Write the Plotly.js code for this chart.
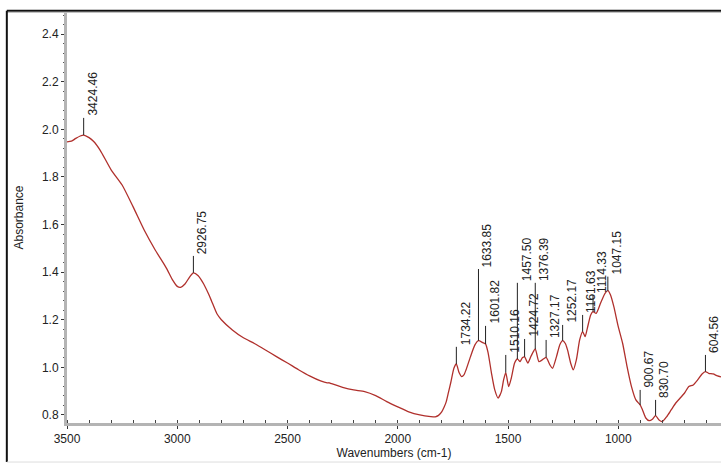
<!DOCTYPE html>
<html>
<head>
<meta charset="utf-8">
<script src="https://cdn.plot.ly/plotly-3.0.1.min.js"></script>
<style>html,body{margin:0;padding:0;background:#fff;}#chart{width:721px;height:464px;}</style>
</head>
<body>
<div id="chart"></div>
<script>
// Spectrum: wavenumber (cm-1) and absorbance
var wavenumbers = [3500,3480,3460,3440,3424.46,3400,3380,3350,3300,3250,3200,3150,3100,3050,3020,3000,2985,2965,2945,2926.75,2905,2880,2860,2845,2820,2800,2750,2700,2650,2600,2550,2500,2450,2400,2350,2320,2310,2300,2250,2200,2150,2100,2050,2000,1950,1900,1850,1830,1815,1800,1790,1780,1770,1760,1745,1734.22,1722,1710,1700,1690,1670,1650,1633.85,1615,1601.82,1590,1575,1560,1545,1530,1520,1510.16,1497,1485,1470,1457.50,1445,1435,1424.72,1410,1395,1376.39,1360,1345,1327.17,1310,1298,1280,1265,1252.17,1240,1230,1215,1204,1190,1175,1161.63,1150,1140,1125,1114.33,1100,1080,1060,1047.15,1035,1020,1000,980,960,940,920,900.67,890,875,860,845,830.70,815,800,780,760,740,720,700,680,660,640,620,604.56,590,570,550,534];
var absorbance = [1.947,1.950,1.962,1.972,1.976,1.965,1.950,1.913,1.830,1.766,1.674,1.577,1.493,1.418,1.365,1.340,1.336,1.350,1.378,1.397,1.385,1.350,1.312,1.280,1.225,1.200,1.157,1.124,1.100,1.073,1.045,1.018,0.990,0.964,0.943,0.935,0.935,0.931,0.916,0.905,0.898,0.881,0.856,0.834,0.813,0.800,0.793,0.792,0.798,0.814,0.832,0.856,0.895,0.934,0.997,1.014,0.978,0.961,0.968,0.990,1.045,1.094,1.112,1.104,1.098,1.060,0.976,0.905,0.871,0.898,0.947,0.978,0.919,0.955,1.018,1.035,1.024,1.040,1.044,1.018,1.048,1.077,1.024,1.031,1.042,1.010,0.996,1.045,1.095,1.112,1.100,1.073,1.015,0.989,1.031,1.115,1.150,1.129,1.165,1.220,1.234,1.227,1.270,1.311,1.322,1.304,1.255,1.171,1.100,1.003,0.919,0.863,0.842,0.821,0.787,0.776,0.782,0.797,0.779,0.772,0.793,0.821,0.849,0.870,0.891,0.919,0.926,0.947,0.972,0.982,0.975,0.972,0.964,0.960];

// Labelled peaks
var peakWn = [3424.46,2926.75,1734.22,1633.85,1601.82,1510.16,1457.50,1424.72,1376.39,1327.17,1252.17,1161.63,1114.33,1047.15,900.67,830.70,604.56];
var peakAbs = [1.976,1.397,1.014,1.112,1.098,0.978,1.035,1.044,1.077,1.042,1.112,1.150,1.234,1.322,0.842,0.797,0.982];
var peakLabelTop = [2.048,1.468,1.086,1.413,1.174,1.052,1.355,1.119,1.355,1.115,1.178,1.220,1.304,1.381,0.905,0.863,1.052];

var FONT = 'Arial, "Liberation Sans", sans-serif';

var shapes = [];
var annotations = [];
for (var i = 0; i < peakWn.length; i++) {
  shapes.push({type:'line', xref:'x', yref:'y', x0:peakWn[i], x1:peakWn[i], y0:peakAbs[i], y1:peakLabelTop[i],
    line:{color:'#222', width:1}});
  annotations.push({xref:'x', yref:'y', x:peakWn[i], y:peakLabelTop[i], text:peakWn[i].toFixed(2),
    textangle:-90, showarrow:false, xanchor:'left', yanchor:'bottom', xshift:0, yshift:0,
    font:{family:FONT, size:12, color:'#222'}});
}
// outer frame
shapes.push({type:'line', xref:'paper', yref:'paper', x0:-0.092, x1:1.01, y0:1.003, y1:1.003, line:{color:'#111', width:2}});
shapes.push({type:'line', xref:'paper', yref:'paper', x0:-0.092, x1:1.01, y0:0.999, y1:0.999, line:{color:'#bbb', width:1}});
shapes.push({type:'line', xref:'paper', yref:'paper', x0:-0.092, x1:-0.092, y0:1.003, y1:-0.095, line:{color:'#111', width:2}});
shapes.push({type:'line', xref:'paper', yref:'paper', x0:-0.092, x1:1.01, y0:-0.095, y1:-0.095, line:{color:'#ddd', width:1}});

var trace = {
  x: wavenumbers, y: absorbance, type:'scatter', mode:'lines',
  line:{color:'#b0302c', width:1.3, shape:'spline', smoothing:0.6},
  hoverinfo:'x+y'
};

var layout = {
  width:721, height:464,
  margin:{l:67, r:0, t:12, b:41, pad:0},
  paper_bgcolor:'#fff', plot_bgcolor:'#fff',
  showlegend:false,
  font:{family:FONT, size:12, color:'#222'},
  xaxis:{
    range:[3500, 534], tick0:0, dtick:500, ticks:'outside', ticklen:3, tickcolor:'#333', tickwidth:1,
    minor:{dtick:100, ticks:'inside', ticklen:3, tickcolor:'#444', tickwidth:1, showgrid:false},
    showline:true, linecolor:'#b4b4b4', linewidth:3, showgrid:false, zeroline:false,
    tickfont:{family:FONT, size:12, color:'#222'},
    title:{text:'Wavenumbers (cm-1)', font:{family:FONT, size:12, color:'#222'}, standoff:4}
  },
  yaxis:{
    range:[0.766, 2.493], tick0:0, dtick:0.2, tickformat:'.1f', ticks:'outside', ticklen:3, tickcolor:'#333', tickwidth:1,
    minor:{dtick:0.04, ticks:'outside', ticklen:1, tickcolor:'#555', tickwidth:1, showgrid:false},
    showline:true, linecolor:'#b4b4b4', linewidth:3, showgrid:false, zeroline:false,
    tickfont:{family:FONT, size:12, color:'#222'},
    title:{text:'Absorbance', font:{family:FONT, size:12, color:'#222'}, standoff:16}
  },
  shapes:shapes,
  annotations:annotations
};

Plotly.newPlot('chart', [trace], layout, {staticPlot:true, displayModeBar:false});
</script>
</body>
</html>
